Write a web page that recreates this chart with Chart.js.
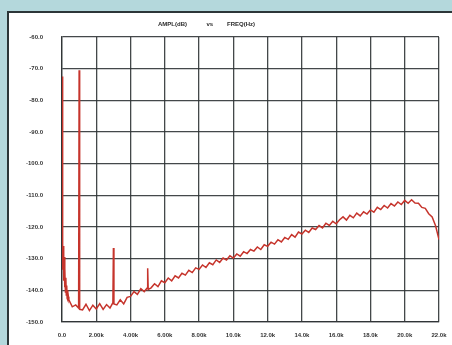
<!DOCTYPE html>
<html>
<head>
<meta charset="utf-8">
<script src="https://cdn.jsdelivr.net/npm/chart.js@4/dist/chart.umd.min.js"></script>
<style>
  html, body { margin: 0; padding: 0; }
  body { width: 452px; height: 345px; background: #b4d8dc; position: relative; overflow: hidden; }
  #panel { position: absolute; left: 7px; top: 11px; right: -4px; bottom: -4px;
           background: #ffffff; border-top: 2px solid #2c3638; border-left: 2px solid #2c3638; }
  #plot { position: absolute; left: 0; top: 0; }
</style>
</head>
<body>
<div id="panel"></div>
<canvas id="plot" width="452" height="345"></canvas>
<script>
// Spectrum of a 1 kHz tone: amplitude (dB) against frequency (Hz)

// Fine detail near DC, 25 Hz spacing
const lowBandHz = [0, 25, 50, 75, 100, 125, 150, 175, 200, 225, 250, 275, 300, 325, 350, 375];
const lowBandDb = [-72.5, -121.5, -133.5, -126.0, -137.0, -129.5, -139.0, -133.0,
                   -140.5, -136.0, -141.5, -138.5, -142.5, -140.0, -143.0, -142.0];

// Noise floor from 400 Hz to 22 kHz in 200 Hz bins
const sweepStartHz = 400;
const sweepStepHz = 200;
const sweepDb = [
  -143.0, -145.2, -144.6, -145.6, -146.2, -144.4, -146.4, -144.7, -145.9, -144.2,  // 0.4k - 2.2k
  -146.0, -144.5, -145.6, -143.9, -144.6, -143.0, -144.3, -142.2, -141.9, -140.4,  // 2.4k - 4.2k
  -141.3, -139.5, -140.4, -139.3, -139.2, -137.9, -138.8, -137.0, -137.6, -136.1,  // 4.4k - 6.2k
  -137.0, -135.4, -136.1, -134.6, -135.2, -133.7, -134.4, -132.9, -133.4, -132.0,  // 6.4k - 8.2k
  -132.8, -131.3, -131.9, -130.4, -131.2, -129.8, -130.4, -129.1, -129.8, -128.5,  // 8.4k - 10.2k
  -129.2, -127.8, -128.4, -127.1, -127.6, -126.3, -127.1, -125.6, -126.1, -124.8,  // 10.4k - 12.2k
  -125.4, -124.0, -124.7, -123.3, -123.9, -122.4, -123.2, -121.6, -122.2, -121.0,  // 12.4k - 14.2k
  -121.7, -120.3, -120.8, -119.5, -120.3, -118.8, -119.5, -118.2, -119.0, -117.7,  // 14.4k - 16.2k
  -116.8, -117.8, -116.3, -117.1, -115.6, -116.5, -115.2, -115.9, -114.6, -115.3,  // 16.4k - 18.2k
  -113.8, -114.5, -113.2, -114.0, -112.6, -113.4, -112.1, -112.9, -111.6, -112.5,  // 18.4k - 20.2k
  -111.4, -112.4, -112.5, -113.8, -114.1, -115.8, -116.8, -119.6, -124.0           // 20.4k - 22.0k
];

// Test tone and its harmonics (narrow lines on top of the floor)
const toneHz = [1000, 3000, 5000];
const toneDb = [-70.5, -126.6, -133.0];

const yTickValues = [-150, -140, -130, -120, -110, -100, -90, -80, -70, -60];
const xTickValues = [0, 2000, 4000, 6000, 8000, 10000, 12000, 14000, 16000, 18000, 20000, 22000];
const titleParts = ['AMPL(dB)', 'vs', 'FREQ(Hz)'];

const floorPoints = lowBandHz.map((f, i) => ({ x: f, y: lowBandDb[i] }))
  .concat(sweepDb.map((v, i) => ({ x: sweepStartHz + i * sweepStepHz, y: v })));

// Each tone replaces the floor bin at its frequency with a one-bin-wide line
const tonePoints = [];
toneHz.forEach((f, i) => {
  const floorAt = floorPoints.find(p => p.x === f);
  if (floorAt) floorAt.x = f - 30;
  tonePoints.push({ x: f, y: toneDb[i] });
  if (floorAt) tonePoints.push({ x: f + 30, y: floorAt.y - 0.4 });
});
const points = floorPoints.concat(tonePoints).sort((a, b) => a.x - b.x);

function freqLabel(v) {
  if (v === 0) return '0.0';
  const k = v / 1000;
  return k < 10 ? k.toFixed(2) + 'k' : k.toFixed(1) + 'k';
}

const FONT = '"Liberation Sans", Arial, sans-serif';
const GRID = 'rgba(48,52,54,0.9)';

// Small title line above the plot
const titlePlugin = {
  id: 'plotTitle',
  afterDraw(chart) {
    const { ctx, chartArea } = chart;
    ctx.save();
    ctx.fillStyle = '#2a2a2a';
    ctx.font = 'bold 6px ' + FONT;
    ctx.textBaseline = 'middle';
    ctx.textAlign = 'center';
    const w = chartArea.right - chartArea.left;
    const y = chartArea.top - 13;
    ctx.fillText(titleParts[0], chartArea.left + w * 0.293, y);
    ctx.fillText(titleParts[1], chartArea.left + w * 0.392, y);
    ctx.fillText(titleParts[2], chartArea.left + w * 0.475, y);
    ctx.restore();
  }
};

new Chart(document.getElementById('plot'), {
  type: 'line',
  data: {
    datasets: [{
      data: points,
      borderColor: 'rgb(198,52,44)',
      borderWidth: 1.5,
      pointRadius: 0,
      tension: 0,
      fill: false
    }]
  },
  options: {
    responsive: false,
    animation: false,
    events: [],
    layout: { padding: { left: 0, right: 13, top: 37, bottom: 0 } },
    plugins: { legend: { display: false }, tooltip: { enabled: false }, title: { display: false } },
    scales: {
      x: {
        type: 'linear',
        min: 0, max: 22000,
        afterBuildTicks(scale) { scale.ticks = xTickValues.map(v => ({ value: v })); },
        afterFit(scale) {
          scale.height = 23;
          scale.paddingLeft = 0;
          scale.paddingRight = 0;
        },
        ticks: {
          callback: v => freqLabel(v),
          color: '#333', font: { family: FONT, size: 6, weight: 'bold' },
          padding: 10, maxRotation: 0, autoSkip: false
        },
        grid: { color: GRID, lineWidth: 1.3, drawTicks: false },
        border: { display: true, color: GRID, width: 1.3 }
      },
      y: {
        type: 'linear',
        min: -150, max: -60,
        afterBuildTicks(scale) { scale.ticks = yTickValues.map(v => ({ value: v })); },
        afterFit(scale) { scale.width = 62; scale.paddingTop = 0; scale.paddingBottom = 0; },
        ticks: {
          callback: v => v.toFixed(1),
          color: '#333', font: { family: FONT, size: 6, weight: 'bold' },
          padding: 19
        },
        grid: { color: GRID, lineWidth: 1.3, drawTicks: false },
        border: { display: true, color: GRID, width: 1.3 }
      }
    }
  },
  plugins: [titlePlugin]
});
</script>
</body>
</html>
